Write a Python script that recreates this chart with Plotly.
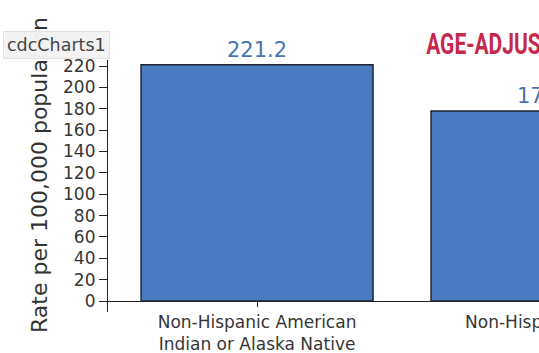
import plotly.graph_objects as go

categories = ["Non-Hispanic American<br>Indian or Alaska Native", "Non-Hispanic Black"]
rates = [221.2, 177.9]
rate_labels = ["221.2", "177.9"]
y_ticks = [0, 20, 40, 60, 80, 100, 120, 140, 160, 180, 200, 220]

W, H = 700, 353
ML, MR, MT, MB = 108, 8, 60, 41
pw = W - ML - MR
ph = H - MT - MB
Y0, Y1 = -10.3, 225.7

def px(x):
    return (x - ML) / pw

def py(y):
    return (H - MB - y) / ph

FONT = "DejaVu Sans"
TXT = "#363636"

fig = go.Figure(go.Bar(
    x=categories, y=rates, text=rate_labels, textposition="outside",
    textfont=dict(family=FONT, size=21, color="#4a74b2"),
    marker=dict(color="#4a7bc0", line=dict(color="#1c2633", width=1.5)),
    cliponaxis=False, width=0.8,
))

fig.update_layout(
    width=W, height=H, autosize=False,
    margin=dict(l=ML, r=MR, t=MT, b=MB),
    paper_bgcolor="white", plot_bgcolor="white",
    showlegend=False,
    font=dict(family=FONT, color=TXT),
)
fig.update_xaxes(
    range=[-0.514, 1.5], anchor="free", position=(0 - Y0) / (Y1 - Y0),
    showline=True, linecolor="#222", linewidth=1.2,
    ticks="outside", ticklen=5, tickcolor="#222",
    tickfont=dict(family=FONT, size=17, color=TXT), showgrid=False, automargin=False,
)
fig.update_yaxes(
    range=[Y0, Y1], tickvals=y_ticks, showline=True, linecolor="#222", linewidth=1.2,
    ticks="outside", ticklen=8, tickcolor="#222",
    tickfont=dict(family=FONT, size=17, color=TXT), showgrid=False, zeroline=False,
    automargin=False,
)

fig.add_annotation(
    text="Rate per 100,000 population", textangle=-90,
    xref="paper", yref="paper", x=px(39), y=py(175),
    xanchor="center", yanchor="middle", showarrow=False,
    font=dict(family=FONT, size=22, color="#333"),
)
fig.add_annotation(
    text="cdcCharts1", xref="paper", yref="paper", x=px(3), y=py(31),
    xanchor="left", yanchor="top", showarrow=False,
    font=dict(family=FONT, size=17.5, color="#444"),
    bgcolor="rgba(243,243,243,0.97)", bordercolor="#e2e2e2", borderwidth=1, borderpad=3,
)
fig.add_annotation(
    text="<b>AGE-ADJUSTED DEATH RATES</b>", xref="paper", yref="paper",
    x=px(424), y=py(43), xanchor="left", yanchor="middle", showarrow=False,
    font=dict(family="Roboto", size=30, color="#c52a4d"),
)

post = """
document.documentElement.style.overflow='hidden';
document.body.style.overflow='hidden';
document.body.style.margin='0';
document.querySelectorAll('.annotation-text').forEach(function(t){
  if (t.textContent.indexOf('AGE-ADJUSTED') === 0) {
    t.style.transformBox='fill-box';
    t.style.transformOrigin='left center';
    t.style.transform='scaleX(0.7)';
  }
});
"""
fig.write_html("out.html", post_script=post)
